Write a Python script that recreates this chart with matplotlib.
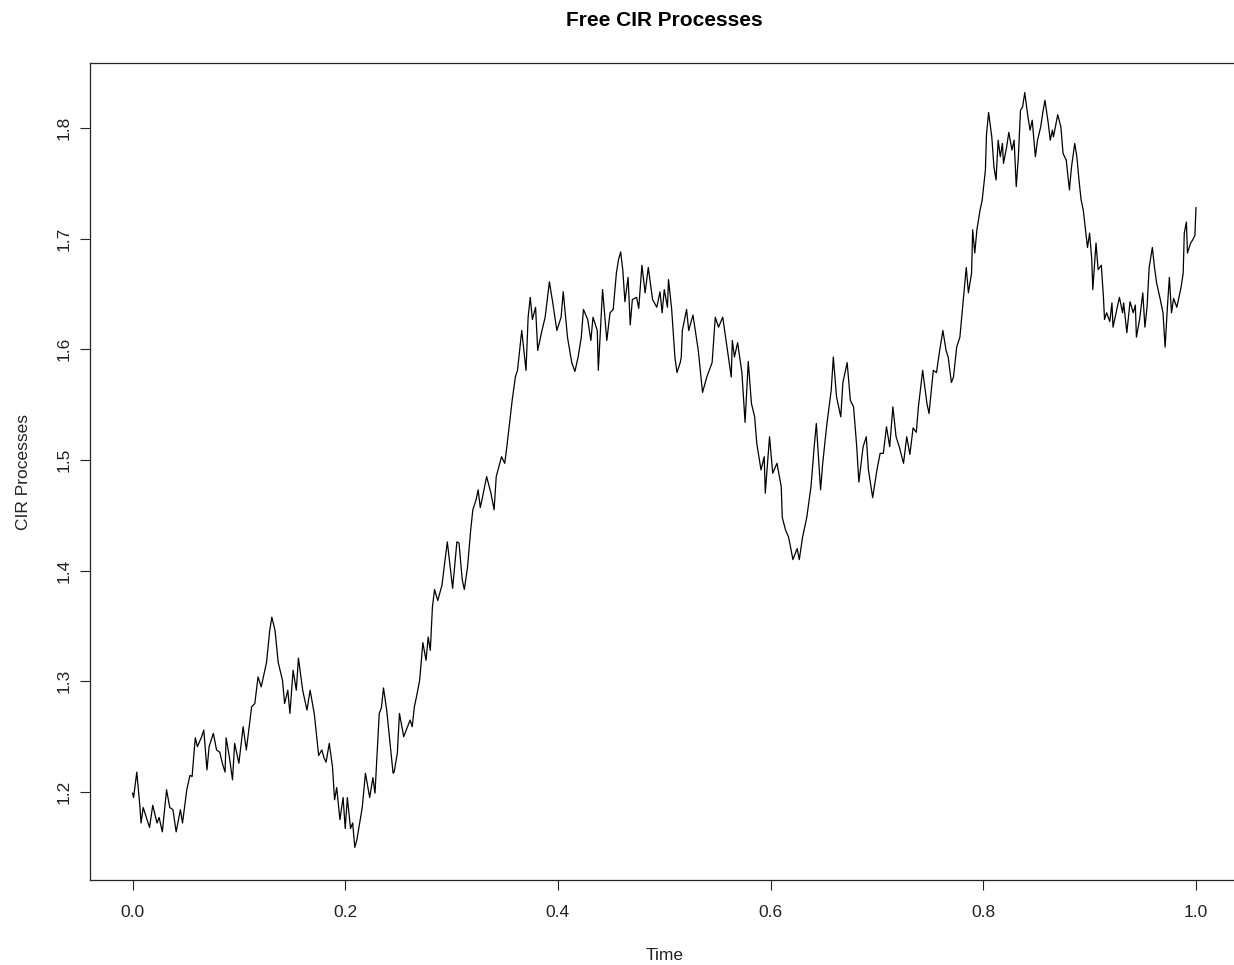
import matplotlib
matplotlib.use("Agg")
import matplotlib.pyplot as plt
import numpy as np

plt.rcParams['font.family'] = ['Liberation Sans', 'DejaVu Sans']

# simulated CIR path, sampled along time in [0, 1]
time = [
    0.000, 0.001, 0.004, 0.007, 0.008, 0.010, 0.013, 0.016, 0.019, 0.023,
    0.025, 0.028, 0.032, 0.035, 0.038, 0.041, 0.045, 0.047, 0.051, 0.054,
    0.056, 0.059, 0.061, 0.065, 0.067, 0.070, 0.072, 0.076, 0.079, 0.082,
    0.085, 0.087, 0.088, 0.091, 0.094, 0.096, 0.100, 0.104, 0.107, 0.112,
    0.115, 0.118, 0.121, 0.126, 0.129, 0.131, 0.134, 0.137, 0.141, 0.143,
    0.146, 0.148, 0.151, 0.154, 0.156, 0.160, 0.164, 0.167, 0.171, 0.175,
    0.178, 0.180, 0.182, 0.185, 0.188, 0.190, 0.192, 0.195, 0.198, 0.200,
    0.202, 0.205, 0.207, 0.209, 0.211, 0.216, 0.219, 0.223, 0.226, 0.228,
    0.232, 0.234, 0.236, 0.239, 0.245, 0.246, 0.249, 0.251, 0.255, 0.261,
    0.263, 0.265, 0.267, 0.270, 0.273, 0.276, 0.278, 0.280, 0.282, 0.284,
    0.287, 0.291, 0.293, 0.296, 0.301, 0.305, 0.307, 0.310, 0.312, 0.315,
    0.318, 0.320, 0.323, 0.325, 0.327, 0.329, 0.333, 0.337, 0.340, 0.342,
    0.347, 0.350, 0.352, 0.356, 0.357, 0.360, 0.362, 0.366, 0.370, 0.372,
    0.374, 0.376, 0.379, 0.381, 0.385, 0.388, 0.392, 0.395, 0.399, 0.403,
    0.405, 0.409, 0.413, 0.416, 0.419, 0.422, 0.424, 0.428, 0.431, 0.433,
    0.437, 0.438, 0.440, 0.442, 0.446, 0.449, 0.452, 0.455, 0.457, 0.459,
    0.461, 0.463, 0.466, 0.468, 0.470, 0.474, 0.476, 0.479, 0.482, 0.485,
    0.489, 0.493, 0.496, 0.498, 0.500, 0.503, 0.504, 0.507, 0.510, 0.512,
    0.515, 0.516, 0.517, 0.521, 0.523, 0.527, 0.532, 0.536, 0.540, 0.545,
    0.548, 0.551, 0.555, 0.559, 0.563, 0.564, 0.566, 0.569, 0.573, 0.576,
    0.579, 0.582, 0.585, 0.587, 0.591, 0.594, 0.595, 0.599, 0.602, 0.606,
    0.610, 0.611, 0.614, 0.617, 0.621, 0.625, 0.627, 0.630, 0.634, 0.638,
    0.641, 0.643, 0.647, 0.649, 0.653, 0.657, 0.659, 0.662, 0.666, 0.668,
    0.672, 0.675, 0.678, 0.681, 0.683, 0.687, 0.690, 0.692, 0.696, 0.700,
    0.703, 0.706, 0.709, 0.712, 0.715, 0.718, 0.721, 0.725, 0.728, 0.731,
    0.734, 0.737, 0.739, 0.743, 0.747, 0.749, 0.753, 0.756, 0.759, 0.762,
    0.765, 0.767, 0.770, 0.772, 0.775, 0.778, 0.781, 0.784, 0.786, 0.789,
    0.790, 0.792, 0.794, 0.797, 0.799, 0.802, 0.803, 0.805, 0.808, 0.810,
    0.812, 0.814, 0.816, 0.818, 0.819, 0.822, 0.824, 0.827, 0.829, 0.831,
    0.833, 0.835, 0.837, 0.839, 0.842, 0.844, 0.846, 0.849, 0.851, 0.854,
    0.856, 0.858, 0.861, 0.863, 0.865, 0.866, 0.869, 0.870, 0.873, 0.875,
    0.878, 0.880, 0.881, 0.883, 0.886, 0.888, 0.890, 0.892, 0.894, 0.897,
    0.898, 0.900, 0.902, 0.903, 0.906, 0.908, 0.911, 0.913, 0.914, 0.916,
    0.919, 0.921, 0.922, 0.926, 0.928, 0.931, 0.932, 0.935, 0.938, 0.941,
    0.943, 0.944, 0.947, 0.950, 0.952, 0.954, 0.956, 0.959, 0.961, 0.963,
    0.966, 0.969, 0.971, 0.973, 0.975, 0.977, 0.979, 0.982, 0.984, 0.986,
    0.988, 0.989, 0.991, 0.992, 0.995, 0.997, 0.999, 1.000,
]

cir = [
    1.199, 1.195, 1.218, 1.186, 1.172, 1.186, 1.177, 1.168, 1.188, 1.172,
    1.177, 1.164, 1.202, 1.186, 1.184, 1.164, 1.184, 1.172, 1.202, 1.215,
    1.214, 1.249, 1.241, 1.250, 1.256, 1.220, 1.241, 1.253, 1.238, 1.236,
    1.224, 1.218, 1.249, 1.232, 1.211, 1.244, 1.226, 1.259, 1.238, 1.277,
    1.280, 1.304, 1.295, 1.317, 1.346, 1.358, 1.346, 1.317, 1.301, 1.280,
    1.292, 1.271, 1.310, 1.292, 1.321, 1.292, 1.274, 1.292, 1.270, 1.233,
    1.238, 1.231, 1.227, 1.244, 1.223, 1.193, 1.204, 1.175, 1.195, 1.167,
    1.195, 1.167, 1.172, 1.150, 1.157, 1.186, 1.217, 1.195, 1.213, 1.199,
    1.271, 1.276, 1.294, 1.274, 1.217, 1.218, 1.235, 1.271, 1.250, 1.265,
    1.259, 1.277, 1.286, 1.301, 1.335, 1.319, 1.340, 1.328, 1.367, 1.383,
    1.373, 1.387, 1.403, 1.426, 1.384, 1.426, 1.425, 1.392, 1.383, 1.403,
    1.437, 1.455, 1.464, 1.473, 1.457, 1.466, 1.485, 1.470, 1.455, 1.485,
    1.503, 1.497, 1.512, 1.545, 1.554, 1.575, 1.581, 1.617, 1.581, 1.629,
    1.647, 1.627, 1.638, 1.599, 1.617, 1.629, 1.661, 1.643, 1.617, 1.629,
    1.652, 1.611, 1.588, 1.580, 1.593, 1.611, 1.636, 1.627, 1.608, 1.629,
    1.617, 1.581, 1.617, 1.654, 1.608, 1.633, 1.636, 1.669, 1.681, 1.688,
    1.672, 1.643, 1.665, 1.622, 1.645, 1.647, 1.637, 1.676, 1.651, 1.674,
    1.645, 1.638, 1.652, 1.633, 1.654, 1.638, 1.663, 1.636, 1.593, 1.579,
    1.588, 1.593, 1.617, 1.636, 1.617, 1.631, 1.599, 1.561, 1.575, 1.588,
    1.629, 1.620, 1.629, 1.602, 1.575, 1.608, 1.593, 1.606, 1.579, 1.534,
    1.589, 1.551, 1.539, 1.515, 1.491, 1.503, 1.470, 1.521, 1.488, 1.497,
    1.476, 1.448, 1.437, 1.430, 1.410, 1.420, 1.410, 1.430, 1.448, 1.476,
    1.512, 1.533, 1.473, 1.497, 1.533, 1.563, 1.593, 1.557, 1.539, 1.570,
    1.588, 1.554, 1.548, 1.512, 1.480, 1.512, 1.521, 1.491, 1.466, 1.491,
    1.506, 1.506, 1.530, 1.512, 1.548, 1.521, 1.512, 1.497, 1.521, 1.505,
    1.529, 1.525, 1.548, 1.581, 1.551, 1.542, 1.581, 1.579, 1.599, 1.617,
    1.599, 1.593, 1.570, 1.575, 1.602, 1.611, 1.642, 1.674, 1.651, 1.669,
    1.708, 1.687, 1.708, 1.726, 1.735, 1.762, 1.794, 1.814, 1.792, 1.765,
    1.753, 1.789, 1.774, 1.786, 1.768, 1.783, 1.796, 1.780, 1.789, 1.747,
    1.774, 1.816, 1.819, 1.832, 1.810, 1.798, 1.807, 1.774, 1.789, 1.801,
    1.814, 1.825, 1.805, 1.789, 1.798, 1.792, 1.807, 1.812, 1.801, 1.777,
    1.771, 1.753, 1.744, 1.765, 1.786, 1.774, 1.753, 1.735, 1.726, 1.701,
    1.692, 1.705, 1.681, 1.654, 1.696, 1.672, 1.676, 1.647, 1.627, 1.633,
    1.625, 1.642, 1.620, 1.638, 1.647, 1.633, 1.642, 1.615, 1.643, 1.633,
    1.640, 1.611, 1.627, 1.651, 1.620, 1.638, 1.674, 1.692, 1.674, 1.660,
    1.647, 1.633, 1.602, 1.636, 1.665, 1.633, 1.646, 1.638, 1.647, 1.656,
    1.669, 1.705, 1.715, 1.687, 1.696, 1.699, 1.703, 1.728,
]

x_ticks = [0.0, 0.2, 0.4, 0.6, 0.8, 1.0]
y_ticks = [1.2, 1.3, 1.4, 1.5, 1.6, 1.7, 1.8]

fig = plt.figure(figsize=(12.34, 9.65), dpi=100)
ax = fig.add_axes([90 / 1234, 85 / 965, 1148.5 / 1234, 817 / 965])

ax.plot(time, cir, color='black', linewidth=0.9)

ax.set_xlim(-0.04, 1.04)
ax.set_ylim(1.1205, 1.8587)
ax.set_xticks(x_ticks, [f"{v:.1f}" for v in x_ticks])
ax.set_yticks(y_ticks, [f"{v:.1f}" for v in y_ticks])
ax.tick_params(axis='both', labelsize=12.5, length=7, width=0.8, direction='out', colors='#222222')
ax.tick_params(axis='x', pad=11)
ax.tick_params(axis='y', pad=6)
for lab in ax.get_yticklabels():
    lab.set_rotation(90)
    lab.set_va('center')

for sp in ax.spines.values():
    sp.set_linewidth(0.9)
    sp.set_color('#222222')

# title centred over the plotting region
ax.text(0.5, 1.0526, 'Free CIR Processes', transform=ax.transAxes,
        fontsize=15, fontweight='bold', ha='center', va='center')
ax.set_xlabel('Time', fontsize=12.5, color='#222222')
ax.set_ylabel('CIR Processes', fontsize=12.5, color='#222222')
ax.xaxis.set_label_coords(0.5, -0.0918)
ax.yaxis.set_label_coords(-0.0575, 0.5)
ax.xaxis.label.set_va('center')
ax.yaxis.label.set_va('center')

fig.savefig('out.png', dpi=100)
